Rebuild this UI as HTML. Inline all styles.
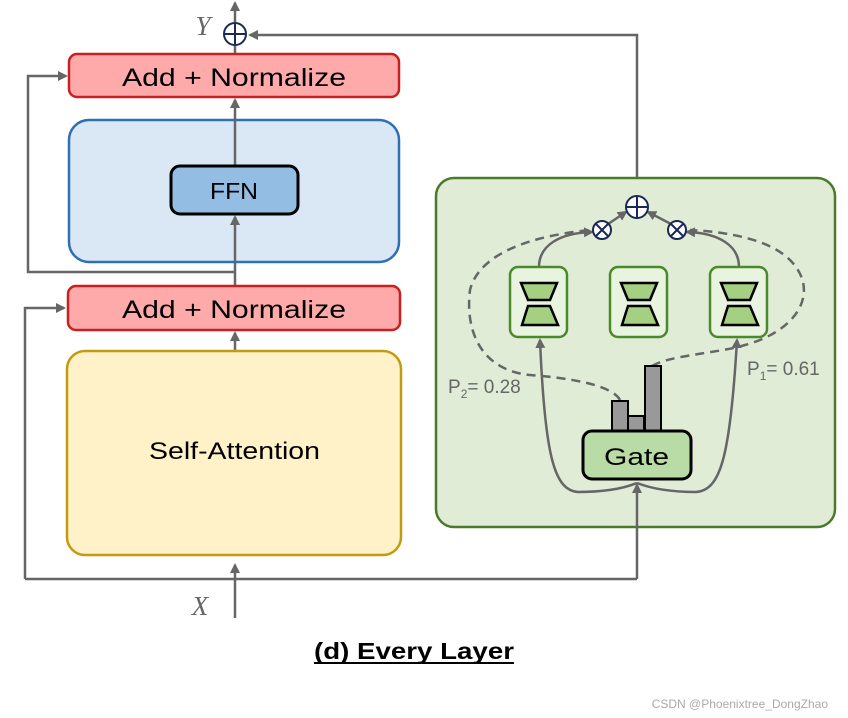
<!DOCTYPE html>
<html><head><style>body{margin:0;background:#fff}svg{display:block}text{font-family:"Liberation Sans",sans-serif}text.s{font-family:"Liberation Serif",serif}</style></head><body>
<svg width="848" height="718" viewBox="0 0 848 718" xmlns="http://www.w3.org/2000/svg">
<defs><marker id="a" markerWidth="10" markerHeight="10" refX="8" refY="5" orient="auto" markerUnits="userSpaceOnUse"><path d="M0,0 L10,5 L0,10 z" fill="#666"/></marker></defs>
<g stroke="#666" stroke-width="2.5" fill="none">
<line x1="235" y1="618" x2="235" y2="565" marker-end="url(#a)"/>
<line x1="235" y1="351" x2="235" y2="333" marker-end="url(#a)"/>
<line x1="235" y1="286" x2="235" y2="217" marker-end="url(#a)"/>
<line x1="235" y1="166" x2="235" y2="100" marker-end="url(#a)"/>
<line x1="235" y1="54" x2="235" y2="46"/>
<line x1="235" y1="22" x2="235" y2="3" marker-end="url(#a)"/>
<polyline points="235,272 28,272 28,76 66,76" marker-end="url(#a)"/>
<polyline points="25,579 25,308 64,308" marker-end="url(#a)"/>
<line x1="25" y1="579" x2="637" y2="579"/>
<polyline points="637,195 637,35 250,35" marker-end="url(#a)"/>
</g>
<rect x="69" y="54" width="330" height="43" rx="8" fill="#ffaaaa" stroke="#c82020" stroke-width="2.5"/>
<text x="122" y="86" font-size="25" textLength="224" lengthAdjust="spacingAndGlyphs">Add + Normalize</text>
<rect x="69" y="120" width="330" height="142" rx="20" fill="#dae8f5" stroke="#2e6fb5" stroke-width="2.5"/>
<line x1="235" y1="262" x2="235" y2="217" stroke="#666" stroke-width="2.5" marker-end="url(#a)"/>
<line x1="235" y1="166" x2="235" y2="120" stroke="#666" stroke-width="2.5"/>
<rect x="171" y="166" width="127" height="48" rx="9" fill="#94bde3" stroke="#000" stroke-width="3"/>
<text x="210" y="199" font-size="23" textLength="48" lengthAdjust="spacingAndGlyphs">FFN</text>
<rect x="68" y="286" width="332" height="44" rx="8" fill="#ffaaaa" stroke="#c82020" stroke-width="2.5"/>
<text x="122" y="318" font-size="25" textLength="224" lengthAdjust="spacingAndGlyphs">Add + Normalize</text>
<rect x="67" y="351" width="334" height="204" rx="18" fill="#fff1c8" stroke="#c49b10" stroke-width="2.5"/>
<text x="149" y="459" font-size="24" textLength="171" lengthAdjust="spacingAndGlyphs">Self-Attention</text>
<circle cx="235" cy="34" r="11" fill="#fff" stroke="#1a2a55" stroke-width="2"/>
<path d="M224,34h22M235,23v22" stroke="#1a2a55" stroke-width="2"/>
<text class="s" x="203" y="35" font-size="27" font-style="italic" fill="#666" text-anchor="middle">Y</text>
<text class="s" x="200" y="615" font-size="27" font-style="italic" fill="#666" text-anchor="middle">X</text>
<rect x="436" y="178" width="399" height="349" rx="18" fill="#e0ecd6" stroke="#4a7a2a" stroke-width="2.5"/>
<line x1="637" y1="579" x2="637" y2="485" stroke="#666" stroke-width="2.5" marker-end="url(#a)"/>
<g stroke="#666" stroke-width="2.5" fill="none">
<path d="M637,483 C620,490 600,492 578,492 C555,490 545,460 540,340" marker-end="url(#a)"/>
<path d="M637,483 C655,490 675,492 696,492 C720,490 730,460 737,340" marker-end="url(#a)"/>
<path d="M539,267 C539,245 560,233 592,232" marker-end="url(#a)"/>
<path d="M739,267 C739,245 718,233 687,232" marker-end="url(#a)"/>
<line x1="608" y1="224" x2="626" y2="212" marker-end="url(#a)"/>
<line x1="671" y1="224" x2="648" y2="212" marker-end="url(#a)"/>
<g stroke-dasharray="9,6">
<path d="M620,400 C612,385 570,378 530,375 C480,370 465,330 470,290 C480,250 540,235 590,230"/>
<path d="M652,366 C670,355 720,353 745,345 C800,330 820,290 790,260 C770,240 730,232 690,230"/>
</g></g>
<g stroke="#4a8a2a" stroke-width="2.5" fill="#e9f4e0">
<rect x="510" y="267" width="57" height="70" rx="8"/><rect x="610" y="267" width="57" height="70" rx="8"/><rect x="710" y="267" width="57" height="70" rx="8"/></g>
<g fill="#a5d081" stroke="#000" stroke-width="2.5">
<path d="M521,283h36l-7,17h-22z M528,306h22l8,19h-36z"/>
<path d="M621,283h36l-7,17h-22z M628,306h22l8,19h-36z"/>
<path d="M721,283h36l-7,17h-22z M728,306h22l8,19h-36z"/></g>
<g fill="#999" stroke="#000" stroke-width="2"><rect x="612" y="401" width="16" height="30"/><rect x="628" y="416" width="16" height="15"/><rect x="645" y="366" width="16" height="65"/></g>
<rect x="583" y="431" width="108" height="48" rx="9" fill="#b9dca6" stroke="#000" stroke-width="3"/>
<text x="604" y="465" font-size="24" textLength="65" lengthAdjust="spacingAndGlyphs">Gate</text>
<g fill="#fff" stroke="#1a2a55" stroke-width="2">
<circle cx="602" cy="230" r="9"/><path d="M596,224l12,12M608,224l-12,12"/>
<circle cx="677" cy="230" r="9"/><path d="M671,224l12,12M683,224l-12,12"/>
<circle cx="637" cy="207" r="11"/><path d="M626,207h22M637,196v22"/></g>
<text x="448" y="393" font-size="19" fill="#666">P<tspan font-size="12" dy="5">2</tspan><tspan dy="-5">= 0.28</tspan></text>
<text x="747" y="375" font-size="19" fill="#666">P<tspan font-size="12" dy="5">1</tspan><tspan dy="-5">= 0.61</tspan></text>
<text x="314" y="659" font-size="23" font-weight="bold" textLength="200" lengthAdjust="spacingAndGlyphs">(d) Every Layer</text>
<line x1="314" y1="663" x2="514" y2="663" stroke="#000" stroke-width="2"/>
<text x="828" y="708" font-size="12" fill="#aaa" text-anchor="end">CSDN @Phoenixtree_DongZhao</text>
</svg>
</body></html>
